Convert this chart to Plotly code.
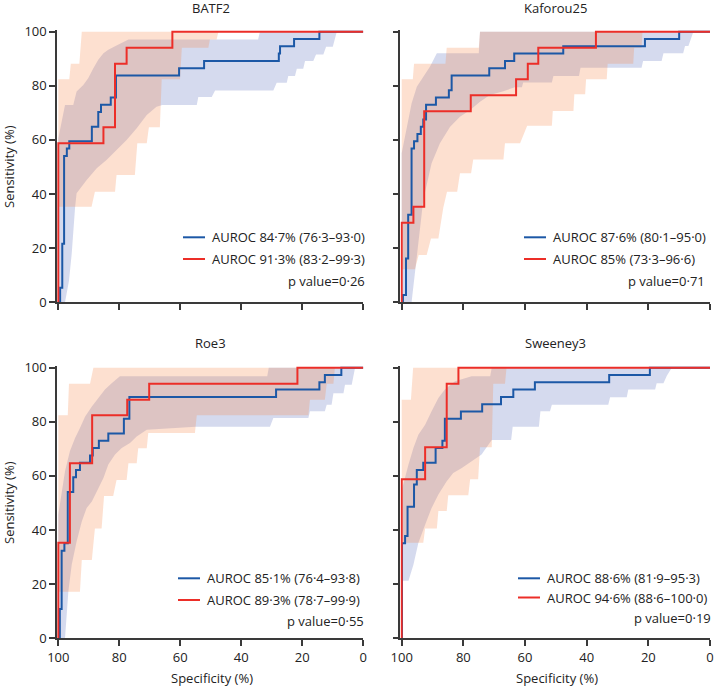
import plotly.graph_objects as go

W, H = 715, 688

# ---------------- data (specificity %, sensitivity %) ----------------
panel_titles = ["BATF2", "Kaforou25", "Roe3", "Sweeney3"]

# BATF2
batf2_blue_spec = [100, 99.4, 98.7, 98.1, 97.2, 96.4, 89.0, 86.9, 86.0, 82.8, 81.1, 60.4, 52.2, 27.7, 27.3, 22.7, 14.4, 0]
batf2_blue_sens = [0, 5.4, 21.6, 54.1, 56.8, 59.5, 64.9, 70.3, 73.0, 75.7, 83.8, 86.5, 89.2, 91.9, 94.6, 97.3, 100, 100]
batf2_red_spec = [100, 100, 85.2, 81.4, 77.6, 62.6, 0]
batf2_red_sens = [0, 58.8, 64.7, 88.2, 94.1, 100, 100]
batf2_bci_up_spec = [100, 98.9, 97.8, 95.1, 94.0, 91.8, 90.2, 88.5, 86.9, 85.2, 83.6, 81.4, 77.0, 34.5, 33.9, 0]
batf2_bci_up_sens = [60.5, 67.2, 72.9, 72.9, 77.9, 80.3, 82.8, 86.5, 89.6, 92.0, 93.3, 94.6, 97.1, 97.1, 100, 100]
batf2_bci_lo_spec = [100, 97.8, 96.5, 95.6, 94.5, 94.0, 90.7, 87.4, 84.2, 80.9, 77.6, 74.3, 71.0, 67.8, 65.9, 54.6, 54.1, 49.7, 48.6, 29.5, 28.4, 25.1, 24.6, 22.4, 21.8, 19.7, 19.1, 16.4, 15.5, 13.1, 12.2, 10.0, 8.7, 0]
batf2_bci_lo_sens = [0, 0, 8, 18, 35, 40.3, 45.2, 49.5, 52.6, 56.3, 60.0, 64.3, 69.2, 72.3, 72.9, 72.9, 75.9, 75.9, 78.3, 78.3, 81.1, 81.1, 83.6, 83.6, 86.3, 86.3, 89.2, 89.2, 91.6, 91.6, 94.4, 94.4, 100, 100]
batf2_rci_up_spec = [100, 96.4, 95.9, 93.1, 92.3, 0]
batf2_rci_up_sens = [82.4, 82.4, 88.2, 88.2, 100, 100]
batf2_rci_lo_spec = [100, 89.1, 88.0, 81.4, 80.9, 74.9, 74.1, 71.0, 70.3, 66.7, 66.1, 60.1, 59.5, 50.8, 50.3, 48.1, 47.5, 0]
batf2_rci_lo_sens = [35.3, 35.3, 40.9, 40.9, 47.0, 47.0, 58.8, 58.8, 64.7, 64.7, 82.4, 82.4, 94.1, 94.1, 97.1, 97.1, 100, 100]

# Kaforou25
kaf_blue_spec = [100, 99.6, 98.6, 97.9, 96.8, 96.0, 94.9, 93.8, 93.0, 92.1, 88.9, 84.7, 83.8, 71.6, 66.5, 63.5, 47.6, 21.1, 10.0, 0]
kaf_blue_sens = [0, 2.7, 16.2, 32.4, 56.8, 59.5, 62.2, 64.9, 67.6, 73.0, 75.7, 78.4, 83.8, 86.5, 89.2, 91.9, 94.6, 97.3, 100, 100]
kaf_red_spec = [100, 100, 96.2, 92.7, 77.6, 62.9, 59.1, 55.7, 37.0, 0]
kaf_red_sens = [0, 29.4, 35.3, 70.6, 76.5, 82.4, 88.2, 94.1, 100, 100]
kaf_bci_up_spec = [100, 98.4, 96.8, 95.1, 93.0, 90.8, 88.6, 75.0, 74.6, 0]
kaf_bci_up_sens = [55.1, 63.7, 73.5, 79.7, 83.4, 87.1, 92.0, 92.0, 100, 100]
kaf_bci_lo_spec = [100, 96.8, 95.7, 93.0, 90.3, 87.6, 84.3, 81.1, 77.8, 74.6, 71.4, 67.0, 63.3, 61.0, 60.6, 51.3, 50.8, 42.5, 42.0, 22.2, 21.7, 15.7, 15.1, 8.7, 8.1, 7.0, 5.4, 0]
kaf_bci_lo_sens = [0, 0, 12.2, 37.8, 51.4, 58.8, 64.9, 68.6, 71.1, 74.1, 76.6, 78.0, 79.5, 79.5, 81.2, 81.2, 83.6, 83.6, 86.7, 86.7, 89.2, 89.2, 92.0, 92.0, 94.7, 94.7, 100, 100]
kaf_rci_up_spec = [100, 96.4, 96.0, 85.8, 85.4, 75.0, 74.6, 0]
kaf_rci_up_sens = [82.4, 82.4, 88.2, 88.2, 94.1, 94.1, 100, 100]
kaf_rci_lo_spec = [100, 95.7, 94.5, 91.9, 90.5, 88.1, 86.5, 85.3, 82.0, 81.1, 77.5, 76.8, 67.0, 66.5, 61.6, 59.3, 51.3, 51.0, 44.3, 44.0, 40.5, 40.2, 33.5, 33.2, 24.9, 24.6, 22.2, 21.9, 0]
kaf_rci_lo_sens = [12.2, 12.2, 17.5, 17.5, 23.6, 23.6, 35.0, 40.9, 40.9, 47.7, 47.7, 52.8, 52.8, 58.8, 58.8, 65.2, 65.2, 70.7, 70.7, 76.9, 76.9, 82.4, 82.4, 88.2, 88.2, 94.1, 94.1, 100, 100]

# Roe3
roe_blue_spec = [100, 99.5, 98.9, 98.0, 96.9, 95.1, 94.2, 92.9, 89.6, 88.7, 86.7, 83.6, 78.5, 76.7, 28.6, 14.4, 12.6, 7.2, 0]
roe_blue_sens = [0, 10.8, 32.4, 35.1, 54.1, 59.5, 62.2, 64.9, 67.6, 70.3, 73.0, 75.7, 81.1, 89.2, 91.9, 94.6, 97.3, 100, 100]
roe_red_spec = [100, 100, 96.2, 88.9, 77.4, 70.2, 21.6, 0]
roe_red_sens = [0, 35.3, 64.7, 82.4, 88.2, 94.1, 100, 100]
roe_bci_up_spec = [100, 98.9, 97.8, 96.2, 94.5, 92.9, 91.2, 89.0, 86.9, 84.7, 82.5, 79.8, 31.5, 31.0, 0]
roe_bci_up_sens = [45.7, 54.3, 61.7, 69.1, 74.0, 77.7, 82.0, 85.7, 88.8, 91.9, 94.3, 96.8, 96.8, 100, 100]
roe_bci_lo_spec = [100, 97.8, 96.7, 95.6, 94.0, 92.3, 90.7, 89.0, 87.4, 85.2, 83.6, 81.4, 79.2, 76.5, 74.3, 71.0, 55.0, 30.6, 29.5, 18.0, 17.5, 12.6, 12.0, 10.4, 9.8, 6.5, 6.0, 3.8, 2.7, 0]
roe_bci_lo_sens = [0, 0, 17.4, 27.2, 35.8, 43.2, 48.2, 50.6, 54.3, 59.2, 64.2, 67.9, 70.3, 72.2, 74.6, 77.1, 78.2, 78.2, 81.4, 81.4, 83.9, 83.9, 86.3, 86.3, 90.6, 90.6, 93.7, 93.7, 100, 100]
roe_rci_up_spec = [100, 96.9, 96.5, 89.6, 88.5, 0]
roe_rci_up_sens = [82.4, 82.4, 94.1, 94.1, 100, 100]
roe_rci_lo_spec = [100, 92.9, 92.3, 89.0, 88.0, 85.8, 85.0, 82.0, 80.9, 77.6, 77.0, 74.3, 73.8, 71.0, 70.5, 55.2, 54.6, 18.0, 17.5, 12.6, 12.0, 9.8, 9.3, 0]
roe_rci_lo_sens = [17.2, 17.2, 28.9, 28.9, 40.6, 40.6, 52.6, 52.6, 58.5, 58.5, 64.7, 64.7, 70.2, 70.2, 75.9, 75.9, 82.4, 82.4, 88.2, 88.2, 94.1, 94.1, 100, 100]

# Sweeney3
swe_blue_spec = [100, 99.9, 98.9, 98.1, 96.0, 95.1, 93.0, 89.0, 86.8, 86.0, 80.8, 73.9, 67.8, 63.8, 56.8, 32.7, 19.5, 0]
swe_blue_sens = [0, 35.1, 37.8, 48.6, 56.8, 62.2, 64.9, 70.3, 73.0, 81.1, 83.8, 86.5, 89.2, 91.9, 94.6, 97.3, 100, 100]
swe_red_spec = [100, 100, 92.4, 85.4, 81.6, 0]
swe_red_sens = [0, 58.8, 70.6, 94.1, 100, 100]
swe_bci_up_spec = [100, 99.5, 97.8, 96.2, 94.6, 92.4, 90.3, 88.1, 86.0, 82.7, 77.3, 71.3, 70.8, 0]
swe_bci_up_sens = [55.0, 56.8, 64.2, 70.3, 75.2, 78.9, 83.9, 88.8, 91.9, 95.0, 96.8, 96.8, 100, 100]
swe_bci_lo_spec = [100, 97.8, 96.2, 94.6, 92.4, 90.3, 88.1, 85.4, 83.3, 80.5, 77.3, 74.1, 70.8, 64.5, 64.0, 55.5, 55.0, 51.9, 51.3, 33.0, 32.4, 27.0, 26.5, 17.8, 17.3, 15.1, 14.0, 12.4, 0]
swe_bci_lo_sens = [21.3, 21.3, 27.2, 35.2, 42.0, 48.2, 53.1, 58.0, 61.1, 62.9, 65.4, 67.9, 73.3, 73.3, 78.2, 78.2, 83.9, 83.9, 86.3, 86.3, 89.1, 89.1, 91.9, 91.9, 94.3, 94.3, 97.0, 100, 100]
swe_rci_up_spec = [100, 97.0, 96.3, 0]
swe_rci_up_sens = [88.2, 88.2, 100, 100]
swe_rci_lo_spec = [100, 93.0, 92.4, 88.6, 88.1, 85.4, 84.9, 78.4, 77.8, 75.2, 74.6, 70.8, 70.3, 66.5, 66.0, 0]
swe_rci_lo_sens = [35.3, 35.3, 40.6, 40.6, 47.0, 47.0, 52.9, 52.9, 58.8, 58.8, 70.6, 70.6, 94.1, 94.1, 100, 100]

blue_labels = ["AUROC 84·7% (76·3–93·0)", "AUROC 87·6% (80·1–95·0)",
               "AUROC 85·1% (76·4–93·8)", "AUROC 88·6% (81·9–95·3)"]
red_labels = ["AUROC 91·3% (83·2–99·3)", "AUROC 85% (73·3–96·6)",
              "AUROC 89·3% (78·7–99·9)", "AUROC 94·6% (88·6–100·0)"]
p_labels = ["p value=0·26", "p value=0·71", "p value=0·55", "p value=0·19"]
tick_vals = [0, 20, 40, 60, 80, 100]

# ---------------- style ----------------
FONT = "Open Sans"
TXT = "#222222"
AXC = "#3a3a3a"
BLUE = "rgb(28,88,166)"
RED = "rgb(236,46,40)"
BLUE_FILL = "rgba(87,107,187,0.25)"
ORANGE_FILL = "rgba(247,131,67,0.25)"

panels = [
    (batf2_blue_spec, batf2_blue_sens, batf2_red_spec, batf2_red_sens,
     batf2_bci_up_spec, batf2_bci_up_sens, batf2_bci_lo_spec, batf2_bci_lo_sens,
     batf2_rci_up_spec, batf2_rci_up_sens, batf2_rci_lo_spec, batf2_rci_lo_sens),
    (kaf_blue_spec, kaf_blue_sens, kaf_red_spec, kaf_red_sens,
     kaf_bci_up_spec, kaf_bci_up_sens, kaf_bci_lo_spec, kaf_bci_lo_sens,
     kaf_rci_up_spec, kaf_rci_up_sens, kaf_rci_lo_spec, kaf_rci_lo_sens),
    (roe_blue_spec, roe_blue_sens, roe_red_spec, roe_red_sens,
     roe_bci_up_spec, roe_bci_up_sens, roe_bci_lo_spec, roe_bci_lo_sens,
     roe_rci_up_spec, roe_rci_up_sens, roe_rci_lo_spec, roe_rci_lo_sens),
    (swe_blue_spec, swe_blue_sens, swe_red_spec, swe_red_sens,
     swe_bci_up_spec, swe_bci_up_sens, swe_bci_lo_spec, swe_bci_lo_sens,
     swe_rci_up_spec, swe_rci_up_sens, swe_rci_lo_spec, swe_rci_lo_sens),
]

# panel geometry in pixels
px_left = [58.3, 401.7, 58.3, 401.7]
px_right = [363.3, 710.0, 363.3, 710.0]
py_top = [31.7, 31.7, 367.7, 367.7]
py_bot = [302.3, 302.3, 638.3, 638.3]
XPAD, YPAD = 0.4, 0.7

fig = go.Figure()
layout = dict(width=W, height=H, margin=dict(l=0, r=0, t=0, b=0, pad=0, autoexpand=False),
              paper_bgcolor="white", plot_bgcolor="white", showlegend=False,
              font=dict(family=FONT, size=13, color=TXT))
annotations = []
shapes = []

for i, p in enumerate(panels):
    (bsp, bse, rsp, rse, bus, buy, bls, bly, rus, ruy, rls, rly) = p
    n = "" if i == 0 else str(i + 1)
    xa, ya = "x" + n, "y" + n
    # confidence bands
    fig.add_trace(go.Scatter(x=bus + bls[::-1], y=buy + bly[::-1], fill="toself",
                             fillcolor=BLUE_FILL, line=dict(width=0), mode="lines",
                             hoverinfo="skip", xaxis=xa, yaxis=ya))
    fig.add_trace(go.Scatter(x=rus + rls[::-1], y=ruy + rly[::-1], fill="toself",
                             fillcolor=ORANGE_FILL, line=dict(width=0), mode="lines",
                             hoverinfo="skip", xaxis=xa, yaxis=ya))
    # ROC curves
    fig.add_trace(go.Scatter(x=bsp, y=bse, mode="lines", line=dict(color=BLUE, width=2, shape="hv"),
                             name=blue_labels[i], xaxis=xa, yaxis=ya))
    fig.add_trace(go.Scatter(x=rsp, y=rse, mode="lines", line=dict(color=RED, width=2, shape="hv"),
                             name=red_labels[i], xaxis=xa, yaxis=ya))

    wpx = px_right[i] - px_left[i]
    hpx = py_bot[i] - py_top[i]
    left = px_left[i] - XPAD / 100 * wpx
    top = py_top[i] - YPAD / 100 * hpx
    bottom_row = i >= 2
    left_col = i % 2 == 0
    common = dict(tickvals=tick_vals, showline=True, linecolor=AXC, linewidth=1.5,
                  ticks="outside", ticklen=6, tickwidth=1.5, tickcolor=AXC,
                  showgrid=False, zeroline=False, fixedrange=True, automargin=False,
                  tickfont=dict(size=13, color=TXT, family=FONT))
    layout["xaxis" + n] = dict(domain=[left / W, px_right[i] / W], range=[100 + XPAD, 0],
                               anchor=ya, showticklabels=bottom_row, **common)
    layout["yaxis" + n] = dict(domain=[1 - py_bot[i] / H, 1 - top / H], range=[0, 100 + YPAD],
                               anchor=xa, showticklabels=left_col, **common)
    # panel title
    annotations.append(dict(text=panel_titles[i], x=(px_left[i] + px_right[i]) / 2 / W,
                            y=1 - (8 if i < 2 else 343) / H, xref="paper", yref="paper",
                            xanchor="center", yanchor="middle", showarrow=False,
                            font=dict(size=13, color=TXT)))

# legends (per panel)
leg_text_x = [210, 551, 205, 545]
leg_row1_y = [237.3, 237.3, 578.3, 578.3]
leg_row2_y = [259.0, 259.0, 600.0, 597.5]
leg_p_y = [281.0, 281.0, 621.0, 617.5]
leg_p_right = [366.5, 707.0, 366.0, 713.0]
for i in range(4):
    for lab, yy, col in ((blue_labels[i], leg_row1_y[i], BLUE), (red_labels[i], leg_row2_y[i], RED)):
        annotations.append(dict(text=lab, x=leg_text_x[i] / W, y=1 - yy / H, xref="paper", yref="paper",
                                xanchor="left", yanchor="middle", showarrow=False,
                                font=dict(size=13, color=TXT)))
        shapes.append(dict(type="line", xref="paper", yref="paper",
                           x0=(leg_text_x[i] - 27) / W, x1=(leg_text_x[i] - 5) / W,
                           y0=1 - yy / H, y1=1 - yy / H, line=dict(color=col, width=2)))
    annotations.append(dict(text=p_labels[i], x=leg_p_right[i] / W, y=1 - leg_p_y[i] / H,
                            xref="paper", yref="paper", xanchor="right", yanchor="middle",
                            showarrow=False, font=dict(size=13, color=TXT)))

# axis titles
for yc in (167, 503):
    annotations.append(dict(text="Sensitivity (%)", x=9 / W, y=1 - yc / H, xref="paper", yref="paper",
                            xanchor="center", yanchor="middle", textangle=-90, showarrow=False,
                            font=dict(size=13, color=TXT)))
for xc in (212, 557):
    annotations.append(dict(text="Specificity (%)", x=xc / W, y=1 - 678 / H, xref="paper", yref="paper",
                            xanchor="center", yanchor="middle", showarrow=False,
                            font=dict(size=13, color=TXT)))

layout["annotations"] = annotations
layout["shapes"] = shapes
fig.update_layout(**layout)
fig.write_html("out.html", config={"displayModeBar": False},
               post_script="document.body.style.margin='0px';document.body.style.overflow='hidden';")
